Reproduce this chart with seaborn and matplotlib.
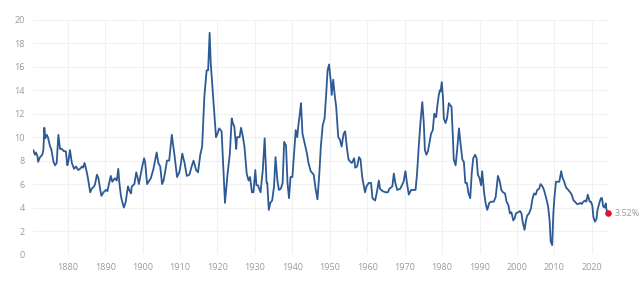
import numpy as np
import pandas as pd
import matplotlib
matplotlib.use('Agg')
import matplotlib.pyplot as plt
import seaborn as sns

# years (fractional) and yield in %
years = [1870.8, 1871.25, 1871.5, 1871.9, 1872.1, 1872.6, 1873.2, 1873.5, 1873.75, 1874.0,
         1874.4, 1874.7, 1875.3, 1875.6, 1876.2, 1876.6, 1877.05, 1877.5, 1877.95, 1878.4,
         1879.0, 1879.5, 1879.9, 1880.2, 1880.6, 1881.1, 1881.7, 1882.2, 1882.8, 1883.3,
         1883.8, 1884.1, 1884.5, 1884.9, 1885.4, 1886.0, 1886.4, 1887.05, 1887.3, 1887.8,
         1888.2, 1888.7, 1889.0, 1889.55, 1890.2, 1890.6, 1891.0, 1891.5, 1891.9, 1892.6,
         1893.1, 1893.5, 1893.8, 1894.2, 1894.55, 1895.0, 1895.5, 1895.8, 1896.1, 1896.4,
         1896.9, 1897.1, 1897.8, 1898.3, 1898.7, 1899.0, 1899.9, 1900.4, 1900.7, 1901.2,
         1901.8, 1902.2, 1902.9, 1903.75, 1904.2, 1904.7, 1905.2, 1905.6, 1906.0, 1906.5,
         1907.1, 1907.8, 1908.5, 1909.2, 1909.8, 1910.1, 1910.6, 1911.2, 1911.8, 1912.5,
         1913.1, 1913.6, 1914.3, 1914.8, 1915.4, 1915.9, 1916.5, 1917.1, 1917.5, 1917.9,
         1918.2, 1918.9, 1919.6, 1920.0, 1920.45, 1921.1, 1922.0, 1922.7, 1923.3, 1923.8,
         1924.1, 1924.5, 1925.0, 1925.2, 1925.9, 1926.3, 1926.8, 1927.2, 1927.8, 1928.3,
         1928.7, 1929.2, 1929.6, 1930.1, 1930.4, 1930.8, 1931.5, 1932.1, 1932.6, 1933.1,
         1933.3, 1933.7, 1934.1, 1934.6, 1935.1, 1935.5, 1936.0, 1936.4, 1936.9, 1937.4,
         1937.8, 1938.3, 1938.7, 1939.1, 1939.5, 1940.0, 1940.45, 1940.9, 1941.3, 1941.6,
         1942.0, 1942.3, 1942.7, 1943.2, 1943.9, 1944.3, 1944.9, 1945.7, 1946.2, 1946.7,
         1947.2, 1947.6, 1948.1, 1948.6, 1949.0, 1949.4, 1949.8, 1950.3, 1950.5, 1950.9,
         1951.3, 1951.7, 1952.25, 1952.7, 1953.15, 1953.7, 1954.1, 1954.6, 1955.0, 1955.5,
         1955.9, 1956.5, 1956.8, 1957.3, 1957.8, 1958.2, 1958.65, 1959.4, 1959.8, 1960.4,
         1961.0, 1961.4, 1962.1, 1962.5, 1963.1, 1963.4, 1964.1, 1964.9, 1965.5, 1965.9,
         1966.7, 1967.1, 1967.5, 1968.0, 1968.8, 1969.7, 1970.2, 1970.6, 1971.1, 1971.7,
         1972.2, 1972.9, 1973.3, 1973.75, 1974.2, 1974.7, 1975.1, 1975.4, 1975.8, 1976.2,
         1976.6, 1977.05, 1977.5, 1977.9, 1978.4, 1978.7, 1979.1, 1979.4, 1979.6, 1979.9,
         1980.2, 1980.45, 1980.9, 1981.3, 1981.8, 1982.2, 1982.5, 1982.9, 1983.1, 1983.6,
         1984.0, 1984.5, 1984.9, 1985.4, 1985.8, 1986.2, 1986.6, 1987.05, 1987.5, 1987.9,
         1988.3, 1988.8, 1989.2, 1989.55, 1990.0, 1990.4, 1990.7, 1991.2, 1991.6, 1992.05,
         1992.6, 1993.1, 1993.8, 1994.3, 1994.9, 1995.4, 1995.8, 1996.25, 1996.8, 1997.2,
         1997.7, 1998.1, 1998.5, 1999.0, 1999.4, 1999.7, 2000.3, 2000.8, 2001.2, 2001.5,
         2002.0, 2002.4, 2002.7, 2003.2, 2003.7, 2004.1, 2004.55, 2005.0, 2005.4, 2005.9,
         2006.3, 2006.8, 2007.2, 2007.8, 2008.3, 2008.7, 2009.0, 2009.4, 2009.7, 2010.0,
         2010.4, 2010.8, 2011.3, 2011.8, 2012.1, 2012.6, 2013.1, 2013.7, 2014.2, 2014.6,
         2015.1, 2015.5, 2016.0, 2016.4, 2016.9, 2017.3, 2017.7, 2018.2, 2018.5, 2018.9,
         2019.4, 2019.7, 2020.1, 2020.4, 2020.8, 2021.2, 2021.5, 2022.0, 2022.4, 2022.7,
         2023.0, 2023.4, 2023.7, 2023.9, 2024.3]

yields = [8.9, 8.5, 8.7, 8.4, 7.9, 8.3, 8.5, 8.9, 10.8, 9.9,
          10.2, 10.0, 9.2, 9.0, 7.9, 7.6, 7.8, 10.2, 9.0, 9.0,
          8.8, 8.8, 7.6, 8.0, 8.9, 7.8, 7.3, 7.5, 7.2, 7.3,
          7.5, 7.4, 7.8, 7.3, 6.5, 5.3, 5.6, 5.8, 6.0, 6.8,
          6.5, 5.5, 5.0, 5.3, 5.5, 5.4, 6.0, 6.7, 6.2, 6.5,
          6.3, 7.3, 6.1, 5.0, 4.5, 4.0, 4.5, 5.2, 5.8, 5.5,
          5.2, 5.8, 6.0, 7.0, 6.5, 6.0, 7.5, 8.2, 7.8, 6.0,
          6.3, 6.5, 7.3, 8.7, 7.8, 7.5, 6.0, 6.3, 7.0, 8.0,
          8.0, 10.2, 8.5, 6.6, 7.0, 7.5, 8.6, 7.8, 6.7, 6.8,
          7.5, 8.0, 7.2, 7.0, 8.5, 9.2, 13.5, 15.7, 15.7, 18.9,
          16.3, 13.2, 10.0, 10.3, 10.75, 10.5, 4.4, 6.9, 8.6, 11.6,
          11.2, 10.9, 9.0, 10.0, 10.0, 10.8, 10.0, 9.2, 6.9, 6.3,
          6.6, 5.3, 5.3, 7.2, 5.9, 5.9, 5.3, 7.2, 9.9, 6.1,
          6.1, 3.8, 4.4, 4.6, 5.8, 8.3, 6.3, 5.5, 5.6, 6.1,
          9.6, 9.3, 6.1, 4.8, 6.6, 6.6, 8.6, 10.6, 10.0, 11.0,
          12.0, 12.9, 10.3, 9.6, 8.6, 7.8, 7.1, 6.8, 5.6, 4.7,
          6.9, 9.2, 11.0, 11.6, 13.5, 15.7, 16.2, 14.6, 13.6, 14.9,
          13.6, 12.6, 10.0, 9.8, 9.2, 10.3, 10.5, 9.0, 8.1, 7.9,
          7.8, 8.2, 7.4, 7.5, 8.3, 8.1, 6.6, 5.3, 5.8, 6.1,
          6.1, 4.8, 4.6, 5.2, 6.3, 5.6, 5.4, 5.3, 5.3, 5.6,
          5.8, 6.9, 6.1, 5.5, 5.6, 6.2, 7.1, 6.1, 5.1, 5.5,
          5.5, 5.5, 6.9, 9.2, 11.2, 13.0, 11.2, 8.9, 8.5, 8.8,
          9.5, 10.3, 10.6, 12.0, 11.7, 12.6, 13.6, 14.0, 13.9, 14.7,
          13.5, 11.6, 11.2, 11.6, 12.9, 12.7, 12.6, 9.8, 8.1, 7.6,
          8.9, 10.75, 9.5, 8.1, 7.9, 6.1, 6.1, 5.2, 4.8, 6.9,
          8.2, 8.5, 8.2, 6.8, 6.5, 5.9, 7.1, 5.3, 4.4, 3.8,
          4.4, 4.5, 4.5, 4.9, 6.7, 6.2, 5.5, 5.3, 5.2, 4.5,
          4.2, 3.5, 3.6, 2.9, 3.1, 3.5, 3.6, 3.7, 3.5, 2.8,
          2.1, 2.9, 3.3, 3.5, 3.9, 4.7, 5.2, 5.1, 5.5, 5.6,
          6.0, 5.8, 5.5, 4.8, 4.1, 2.9, 1.1, 0.8, 3.5, 4.9,
          6.2, 6.2, 6.2, 7.1, 6.6, 6.2, 5.7, 5.5, 5.3, 5.1,
          4.6, 4.5, 4.3, 4.3, 4.4, 4.3, 4.5, 4.6, 4.5, 5.1,
          4.5, 4.5, 4.2, 3.2, 2.8, 3.0, 3.8, 4.4, 4.8, 4.8,
          4.1, 4.0, 4.35, 3.8, 3.52]

x_ticks = list(range(1880, 2021, 10))
y_ticks = list(range(0, 21, 2))
last_label = '3.52%'

df = pd.DataFrame({'year': years, 'value': yields})

sns.set_style('white')
plt.rcParams['font.family'] = ['Open Sans', 'DejaVu Sans']

fig, ax = plt.subplots(figsize=(6.4, 2.84), dpi=100)
fig.subplots_adjust(left=0.052, right=0.95, bottom=0.104, top=0.93)

sns.lineplot(data=df, x='year', y='value', ax=ax, color='#2d5a94',
             linewidth=1.3, estimator=None, sort=False)

# end marker + label
ax.scatter([years[-1]], [yields[-1]], color='#e8112d', s=14, zorder=5, clip_on=False)
ax.annotate(last_label, (years[-1], yields[-1]), xytext=(5, 0),
            textcoords='offset points', va='center', ha='left',
            fontsize=6.5, color='#9a9a9a', annotation_clip=False)

ax.set_xlim(years[0], years[-1])
ax.set_ylim(0, 20)
ax.set_xticks(x_ticks)
ax.set_yticks(y_ticks)
ax.grid(True, color='#f1f1f1', linewidth=0.8)
ax.set_axisbelow(True)
for s in ax.spines.values():
    s.set_visible(False)
ax.tick_params(length=0, labelsize=6.5, labelcolor='#9a9a9a')
ax.tick_params(axis='y', pad=6)
ax.tick_params(axis='x', pad=6)
ax.set_xlabel('')
ax.set_ylabel('')

fig.savefig('out.png', dpi=100)
